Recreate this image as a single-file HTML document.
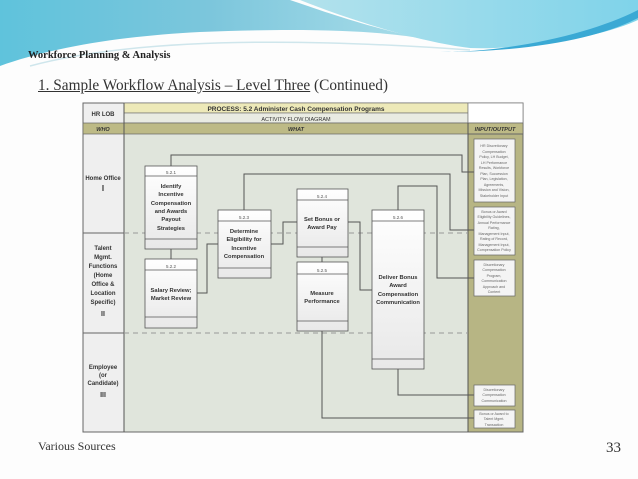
<!DOCTYPE html>
<html><head><meta charset="utf-8"><style>
body{margin:0;width:638px;height:479px;background:#fdfdfd;overflow:hidden;position:relative;font-family:"Liberation Serif",serif}
.t{position:absolute;white-space:nowrap}
</style></head><body>
<svg width="638" height="479" style="position:absolute;left:0;top:0">
<defs>
<linearGradient id="g1" x1="0" y1="0" x2="1" y2="0"><stop offset="0" stop-color="#5fc3dc"/><stop offset=".5" stop-color="#7cc6dc"/><stop offset="1" stop-color="#a9dde9"/></linearGradient>
<linearGradient id="g2" x1="0" y1="0" x2="1" y2="0"><stop offset="0" stop-color="#b3e2ec"/><stop offset="1" stop-color="#7fd3ea"/></linearGradient>
<linearGradient id="bx" x1="0" y1="0" x2="0" y2="1"><stop offset="0" stop-color="#fff"/><stop offset="1" stop-color="#e8e8e8"/></linearGradient>
</defs>
<path d="M0 0H290C320 10 360 25 420 38C370 30 300 28 200 32C120 36 50 48 0 66Z" fill="url(#g1)"/>
<path d="M300 0H638V20C600 38 520 50 470 48C420 42 350 20 300 0Z" fill="url(#g2)"/>
<path d="M440 52C520 52 600 30 638 10V18C600 38 530 52 440 52Z" fill="#3aa9d4"/>
<path d="M30 66C120 42 260 35 470 50" stroke="#cfe6ec" fill="none" stroke-width="1.5"/>
<g font-family="'Liberation Sans',sans-serif">
<rect x="83" y="103" width="440" height="329" fill="#e0e5dc" stroke="#666" stroke-width="1"/>
<rect x="83" y="103" width="41" height="329" fill="#efefef" stroke="#666"/>
<rect x="124" y="103" width="344" height="10" fill="#ede9b8" stroke="#777" stroke-width=".7"/>
<rect x="124" y="113" width="344" height="10" fill="#e9ebe2" stroke="#777" stroke-width=".7"/>
<rect x="468" y="103" width="55" height="20" fill="#fff" stroke="#777" stroke-width=".7"/>
<rect x="83" y="123" width="440" height="11" fill="#bdba86" stroke="#666" stroke-width=".7"/>
<rect x="468" y="134" width="55" height="298" fill="#b7b584" stroke="#666"/>
<line x1="124" y1="103" x2="124" y2="432" stroke="#555"/>
<line x1="468" y1="123" x2="468" y2="432" stroke="#555"/>
<line x1="83" y1="233" x2="124" y2="233" stroke="#666"/>
<line x1="83" y1="333" x2="124" y2="333" stroke="#666"/>
<line x1="124" y1="233" x2="468" y2="233" stroke="#999" stroke-dasharray="5,4"/>
<line x1="124" y1="333" x2="468" y2="333" stroke="#999" stroke-dasharray="5,4"/>
<g font-size="6" font-weight="bold" fill="#333" text-anchor="middle">
<text x="103" y="116">HR LOB</text>
<text x="296" y="111" font-size="6.5">PROCESS: 5.2 Administer Cash Compensation Programs</text>
<text x="296" y="121" font-weight="normal" font-size="5.5">ACTIVITY FLOW DIAGRAM</text>
<text x="103" y="131" font-style="italic" font-size="5.5">WHO</text>
<text x="296" y="131" font-style="italic" font-size="5.5">WHAT</text>
<text x="495" y="131" font-style="italic" font-size="5.5">INPUT/OUTPUT</text>
<text x="103" y="180">Home Office</text><text x="103" y="191" font-size="8">I</text>
<text x="103" y="250">Talent</text><text x="103" y="259">Mgmt.</text><text x="103" y="268">Functions</text><text x="103" y="277">(Home</text><text x="103" y="286">Office &amp;</text><text x="103" y="295">Location</text><text x="103" y="304">Specific)</text><text x="103" y="316" font-size="7">II</text>
<text x="103" y="369">Employee</text><text x="103" y="377">(or</text><text x="103" y="385">Candidate)</text><text x="103" y="397" font-size="7">III</text>
</g>
<g stroke="#555" fill="none" stroke-width="1">
<path d="M171 166V155H462V172H474"/>
<path d="M244 210V174H450V230H474"/>
<path d="M171 249V259"/>
<path d="M197 293H207V244H218"/>
<path d="M271 244H283V222H297"/>
<path d="M348 222H360V290H372"/>
<path d="M398 210V186H437V278H474"/>
<path d="M398 369V395H474"/>
<path d="M322 331V418H474"/>
<path d="M322 257V262"/>
</g>
<g stroke="#555" stroke-width=".8" fill="url(#bx)">
<rect x="145" y="166" width="52" height="83"/><path d="M145 176H197M145 239H197" fill="none"/>
<rect x="145" y="259" width="52" height="69"/><path d="M145 270H197M145 317H197" fill="none"/>
<rect x="218" y="210" width="53" height="68"/><path d="M218 221H271M218 268H271" fill="none"/>
<rect x="297" y="189" width="51" height="68"/><path d="M297 200H348M297 247H348" fill="none"/>
<rect x="297" y="262" width="51" height="69"/><path d="M297 274H348M297 321H348" fill="none"/>
<rect x="372" y="210" width="52" height="159"/><path d="M372 221H424M372 359H424" fill="none"/>
</g>
<g stroke="#666" stroke-width=".7" fill="#f4f4f4">
<rect x="474" y="139" width="41" height="63"/>
<rect x="474" y="207" width="41" height="48"/>
<rect x="474" y="260" width="41" height="36"/>
<rect x="474" y="385" width="41" height="21"/>
<rect x="474" y="410" width="41" height="18"/>
</g>
<g font-size="4.5" fill="#555" text-anchor="middle">
<text x="171" y="174">5.2.1</text><text x="171" y="268">5.2.2</text><text x="244" y="219">5.2.3</text>
<text x="322" y="198">5.2.4</text><text x="322" y="272">5.2.5</text><text x="398" y="219">5.2.6</text>
</g>
<g font-size="5.8" font-weight="bold" fill="#333" text-anchor="middle">
<text x="171" y="188">Identify</text><text x="171" y="196">Incentive</text><text x="171" y="205">Compensation</text><text x="171" y="213">and Awards</text><text x="171" y="221">Payout</text><text x="171" y="230">Strategies</text>
<text x="171" y="292">Salary Review;</text><text x="171" y="300">Market Review</text>
<text x="244" y="233">Determine</text><text x="244" y="241">Eligibility for</text><text x="244" y="250">Incentive</text><text x="244" y="258">Compensation</text>
<text x="322" y="221">Set Bonus or</text><text x="322" y="229">Award Pay</text>
<text x="322" y="295">Measure</text><text x="322" y="303">Performance</text>
<text x="398" y="279">Deliver Bonus</text><text x="398" y="287">Award</text><text x="398" y="296">Compensation</text><text x="398" y="304">Communication</text>
</g>
<g font-size="3.6" fill="#666" text-anchor="middle">
<text x="494" y="147">HR Discretionary</text><text x="494" y="153">Compensation</text><text x="494" y="158">Policy, LH Budget,</text><text x="494" y="164">LH Performance</text><text x="494" y="169">Results, Workforce</text><text x="494" y="175">Plan, Succession</text><text x="494" y="180">Plan, Legislation,</text><text x="494" y="186">Agreements,</text><text x="494" y="191">Mission and Vision,</text><text x="494" y="197">Stakeholder Input</text>
<text x="494" y="213">Bonus or Award</text><text x="494" y="218">Eligibility Guidelines,</text><text x="494" y="224">Annual Performance</text><text x="494" y="229">Rating,</text><text x="494" y="235">Management Input,</text><text x="494" y="240">Rating of Record,</text><text x="494" y="246">Management Input,</text><text x="494" y="251">Compensation Policy</text>
<text x="494" y="266">Discretionary</text><text x="494" y="271">Compensation</text><text x="494" y="277">Program,</text><text x="494" y="282">Communication</text><text x="494" y="288">Approach and</text><text x="494" y="293">Content</text>
<text x="494" y="391">Discretionary</text><text x="494" y="396">Compensation</text><text x="494" y="402">Communication</text>
<text x="494" y="415">Bonus or Award to</text><text x="494" y="420">Talent Mgmt.</text><text x="494" y="426">Transaction</text>
</g>
</g>
</svg>
<div class="t" style="left:28px;top:50px;font-size:10.5px;font-weight:bold;color:#222">Workforce Planning &amp; Analysis</div>
<div class="t" style="left:38px;top:77px;font-size:15.3px;color:#333"><u>1. Sample Workflow Analysis – Level Three</u> (Continued)</div>
<div class="t" style="left:38px;top:439px;font-size:12px;color:#333">Various Sources</div>
<div class="t" style="left:606px;top:440px;font-size:15px;color:#333">33</div>
</body></html>
